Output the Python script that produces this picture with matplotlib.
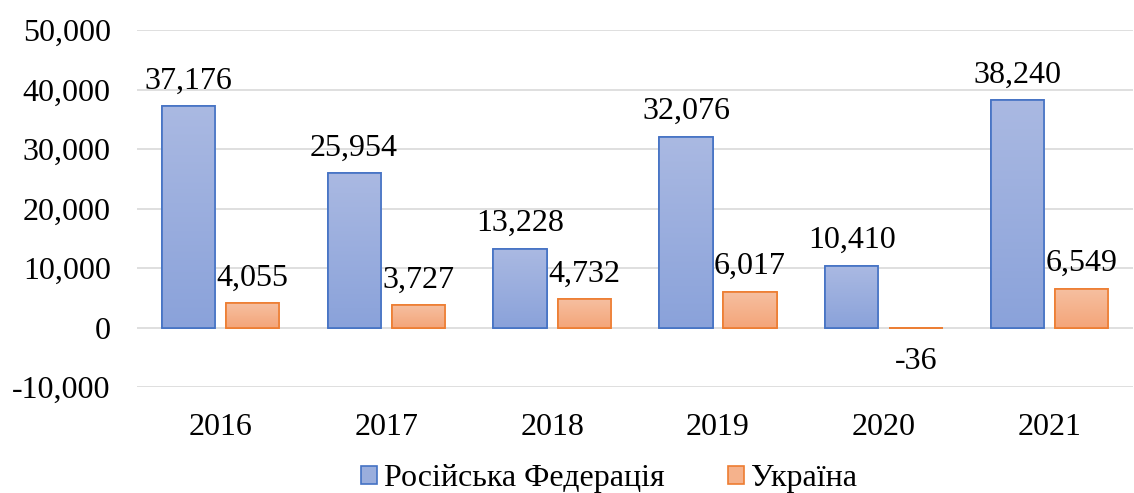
import matplotlib
matplotlib.use("Agg")
import matplotlib.pyplot as plt
import numpy as np
from matplotlib.colors import LinearSegmentedColormap
from matplotlib.patches import Patch

years = ["2016", "2017", "2018", "2019", "2020", "2021"]
russia = [37176, 25954, 13228, 32076, 10410, 38240]
ukraine = [4055, 3727, 4732, 6017, -36, 6549]
series_names = ["Російська Федерація", "Україна"]
y_ticks = [-10000, 0, 10000, 20000, 30000, 40000, 50000]

plt.rcParams['font.family'] = ['Liberation Serif', 'DejaVu Serif']

fig = plt.figure(figsize=(11.34, 4.93), dpi=100)
ax = fig.add_axes([0.121, 0.215, 0.878, 0.724])

x = np.arange(len(years))
w = 0.32
gap = 0.066
off = (w + gap) / 2

blue_edge = "#4472c4"
orange_edge = "#ed7d31"
blue_cmap = LinearSegmentedColormap.from_list("b", ["#8aa2da", "#aab9e2"])
orange_cmap = LinearSegmentedColormap.from_list("o", ["#f4a579", "#f6bfa0"])

b1 = ax.bar(x - off, russia, w, facecolor="#9aaedd", edgecolor=blue_edge, linewidth=1.2, zorder=3)
b2 = ax.bar(x + off, ukraine, w, facecolor="#f5b28c", edgecolor=orange_edge, linewidth=1.2, zorder=3)

grad = np.linspace(0, 1, 256).reshape(-1, 1)
for bars, cmap in ((b1, blue_cmap), (b2, orange_cmap)):
    for r in bars:
        x0, y0 = r.get_x(), r.get_y()
        x1, y1 = x0 + r.get_width(), y0 + r.get_height()
        lo, hi = min(y0, y1), max(y0, y1)
        im = ax.imshow(grad, cmap=cmap, extent=(x0, x1, lo, hi), origin="lower",
                       aspect="auto", zorder=3.5, interpolation="bicubic")
        im.set_clip_path(r)
        ax.add_patch(plt.Rectangle((x0, lo), x1 - x0, hi - lo, fill=False,
                                   edgecolor=r.get_edgecolor(), linewidth=1.2, zorder=4))

fs = 23
for bars, vals in ((b1, russia), (b2, ukraine)):
    for r, v in zip(bars, vals):
        cx = r.get_x() + r.get_width() / 2
        dy = 18 if v >= 0 else -24
        ax.annotate(f"{v:,}", (cx, v), xytext=(0, dy), textcoords="offset points",
                    ha="center", va="center", fontsize=fs, zorder=5)

ax.set_ylim(-10000, 50000)
ax.set_yticks(y_ticks)
ax.set_yticklabels([f"{t:,}" for t in y_ticks], fontsize=fs)
ax.set_xlim(-0.5, len(years) - 0.5)
ax.set_xticks(x)
ax.set_xticklabels(years, fontsize=fs)
ax.tick_params(axis="y", length=0, pad=19)
ax.tick_params(axis="x", length=0, pad=19)
ax.grid(axis="y", color="#d9d9d9", linewidth=1.2, zorder=0)
ax.set_axisbelow(True)
for s in ax.spines.values():
    s.set_visible(False)

handles = [Patch(facecolor="#9aaedd", edgecolor=blue_edge, linewidth=1.2),
           Patch(facecolor="#f5b28c", edgecolor=orange_edge, linewidth=1.2)]
fig.legend(handles, series_names, loc="center", bbox_to_anchor=(0.537, 0.029),
           ncol=2, frameon=False, fontsize=fs, handlelength=0.5, handleheight=0.5,
           handletextpad=0.2, columnspacing=2.0, borderpad=0)

fig.savefig("out.png", dpi=100)
